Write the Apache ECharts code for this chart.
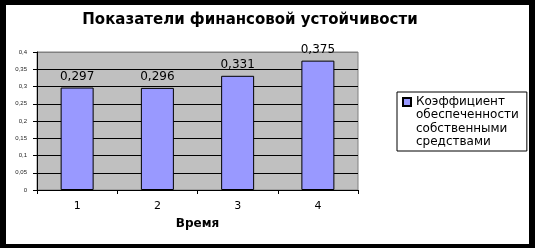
<!DOCTYPE html>
<html><head><meta charset="utf-8">
<script src="https://cdn.jsdelivr.net/npm/echarts@6/dist/echarts.min.js"></script>
<style>html,body{margin:0;padding:0;background:#000;}#c{width:535px;height:248px;}</style>
</head><body><div id="c"></div>
<script>
const categories = ['1', '2', '3', '4'];
const values = [0.297, 0.296, 0.331, 0.375];
const seriesName = 'Коэффициент\nобеспеченности\nсобственными\nсредствами';
const titleText = 'Показатели финансовой устойчивости';
const xName = 'Время';

const chart = echarts.init(document.getElementById('c'));
const fmt = v => String(+v.toFixed(3)).replace('.', ',');
chart.setOption({
  backgroundColor: '#000',
  animation: false,
  graphic: [{type: 'rect', z: -10, shape: {x: 6, y: 5, width: 523, height: 239}, style: {fill: '#fff'}}],
  title: {
    text: titleText, left: 250, top: 13, textAlign: 'center', padding: 0,
    textStyle: {fontFamily: 'DejaVu Sans', fontWeight: 'bold', fontSize: 15, color: '#000'}
  },
  grid: {left: 37, top: 52, width: 321, height: 138, show: true, backgroundColor: '#C0C0C0', borderColor: '#808080', borderWidth: 1},
  xAxis: {
    type: 'category', data: categories,
    name: xName, nameLocation: 'middle', nameGap: 28,
    nameTextStyle: {fontFamily: 'DejaVu Sans', fontWeight: 'bold', fontSize: 12, color: '#000'},
    axisLine: {lineStyle: {color: '#000', width: 1}},
    axisTick: {show: true, length: 4, lineStyle: {color: '#000'}},
    axisLabel: {margin: 11, fontFamily: 'DejaVu Sans', fontSize: 11, color: '#000'}
  },
  yAxis: {
    type: 'value', min: 0, max: 0.4, interval: 0.05,
    axisLine: {show: true, lineStyle: {color: '#000', width: 1}},
    axisTick: {show: true, length: 4, lineStyle: {color: '#000'}},
    axisLabel: {margin: 10, fontFamily: 'Liberation Sans', fontSize: 6, color: '#222', formatter: fmt},
    splitLine: {show: true, lineStyle: {color: ['#000','#000','#000','#000','#000','#000','#000','#000','#808080'], width: 1}}
  },
  legend: {
    left: 397, top: 92, orient: 'vertical',
    padding: [2, 8, 1, 5],
    borderColor: '#000', borderWidth: 1, backgroundColor: '#fff',
    itemWidth: 8, itemHeight: 54,
    icon: 'path://M0,0h0M0,3h8v8h-8zM0,54h0',
    textStyle: {fontFamily: 'DejaVu Sans', fontSize: 12, lineHeight: 13.5, color: '#000'},
    data: [seriesName]
  },
  series: [{
    name: seriesName, type: 'bar', data: values, barWidth: 33,
    itemStyle: {color: '#9999FF', borderColor: '#000', borderWidth: 1},
    label: {show: true, position: 'top', distance: 5, fontFamily: 'DejaVu Sans', fontSize: 12, color: '#000', formatter: p => fmt(p.value)}
  }]
});
</script></body></html>
